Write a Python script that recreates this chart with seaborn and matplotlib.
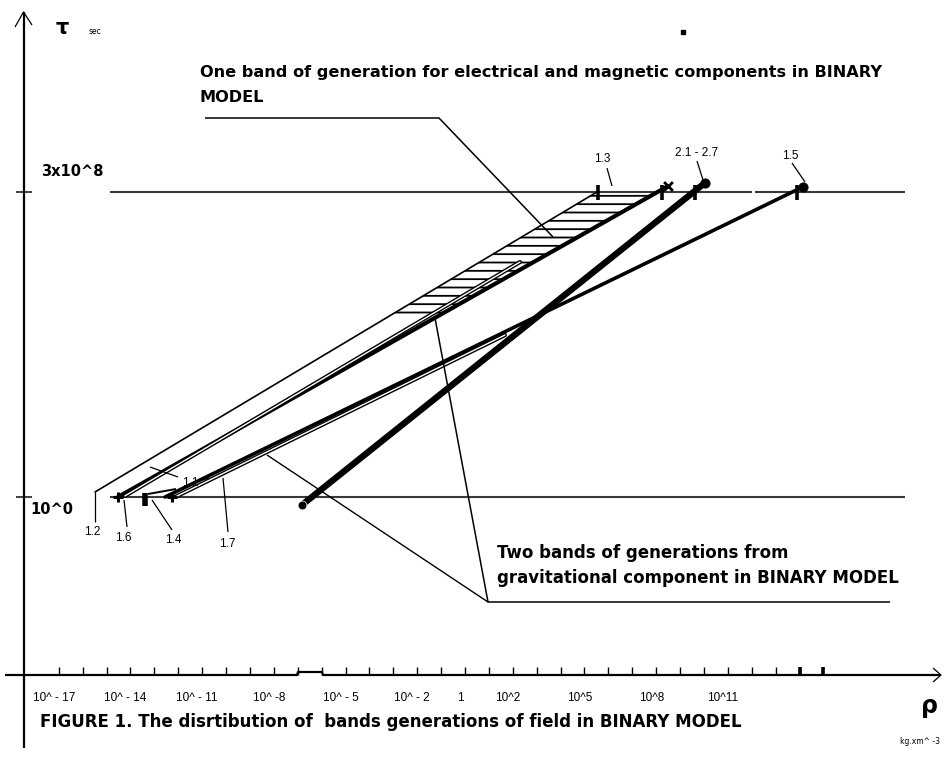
import numpy as np
import pandas as pd
import matplotlib
matplotlib.use("Agg")
import matplotlib.pyplot as plt
from matplotlib.transforms import ScaledTranslation
import seaborn as sns

# ---------------- data (log10 units: rho in kg*m^-3, tau in sec) ----------------
rho_ticks = list(range(-17, 16))
rho_tick_text = {-17: "10^ - 17", -14: "10^ - 14", -11: "10^ - 11", -8: "10^ -8",
                 -5: "10^ - 5", -2: "10^ - 2", 0: "1", 2: "10^2", 5: "10^5",
                 8: "10^8", 11: "10^11"}
rho_strong_ticks = [14, 15]
tau_levels = [0.0, 8.477]          # 10^0 and 3x10^8
tau_level_names = ["10^0", "3x10^8"]
ref_rho_start = -14.85
ref_rho_end = 18.41

band_names = ["1.2-1.3", "1.6", "1.1", "2.1-2.7", "1.5", "1.7"]
band_rho_start = [-15.48, -14.52, -14.23, -6.82, -12.55, -12.13]
band_tau_start = [0.14, 0.00, 0.03, -0.22, 0.00, 0.00]
band_rho_end = [5.52, 8.49, 2.30, 10.04, 14.14, 1.67]
band_tau_end = [8.477, 8.64, 6.53, 8.73, 8.62, 4.50]

hatch_tau_range = [5.06, 8.477]    # hatched part of the electro-magnetic band

top_marker_rho = [5.56, 8.24, 9.62, 13.89]
end_blob_rho = [10.04, 14.14]
end_blob_tau = [8.73, 8.62]
low_marker_rho = [-14.52, -12.26]
low_bar_rho = [-13.39]

# ---------------- figure ----------------
W, H, DPI = 945, 762, 100
sns.set_theme(style="white")
plt.rcParams["font.family"] = ["DejaVu Sans"]
plt.rcParams["hatch.linewidth"] = 1.3

fig = plt.figure(figsize=(W / DPI, H / DPI), dpi=DPI)
fig.patch.set_facecolor("white")
AX_L, AX_R, AX_B, AX_T = 24, 940, 675, 10
ax = fig.add_axes([AX_L / W, 1 - AX_B / H, (AX_R - AX_L) / W, (AX_B - AX_T) / H])
ax.set_facecolor("white")
for s in ax.spines.values():
    s.set_visible(False)

# linear mapping of decades onto the drawing
px_per_rho, rho0_px = 23.9, 465.0
px_per_tau, tau0_px = 35.98, 497.0
ax.set_xlim((AX_L - rho0_px) / px_per_rho, (AX_R - rho0_px) / px_per_rho)
ax.set_ylim((tau0_px - AX_B) / px_per_tau, (tau0_px - AX_T) / px_per_tau)

narrow = ["Liberation Sans Narrow", "Liberation Sans", "DejaVu Sans"]
ax.set_xticks(rho_ticks)
ax.set_xticklabels([rho_tick_text.get(t, "") for t in rho_ticks])
ax.tick_params(axis="x", direction="in", length=5.8, width=1.0, color="black",
               bottom=True, pad=12, labelsize=8.5, labelcolor="black")
for lab in ax.get_xticklabels():
    lab.set_transform(lab.get_transform() + ScaledTranslation(-5 / 100, 0, fig.dpi_scale_trans))
    lab.set_fontfamily(narrow)
ax.set_yticks(tau_levels)
ax.set_yticklabels(["", ""])
ax.tick_params(axis="y", direction="inout", length=11, width=1.3, color="#333333", left=True)
ax.grid(False)


def fx(x):
    return x / W


def fy(y):
    return 1 - y / H


def pline(xs, ys, **kw):
    kw.setdefault("color", "black")
    kw.setdefault("lw", 0.9)
    ax.plot([fx(v) for v in xs], [fy(v) for v in ys], transform=fig.transFigure,
            clip_on=False, solid_capstyle="butt", **kw)


def ptext(x, y, s, **kw):
    kw.setdefault("ha", "center")
    kw.setdefault("va", "center")
    kw.setdefault("color", "black")
    fig.text(fx(x), fy(y), s, **kw)


# axes arrows
pline([24, 24], [748, 12], lw=1.6)
pline([15, 23.5, 32], [27, 12, 25], lw=0.9)
pline([5, 297, 298, 322, 323, 940], [675, 675, 672, 672, 675, 675], lw=1.6)
pline([933, 941, 933], [668, 675, 682], lw=0.9)

# reference levels
for lvl in tau_levels:
    ax.hlines(lvl, ref_rho_start, ref_rho_end, color="#3a3a3a", lw=1.5)
ax.hlines(tau_levels[1], 12.0, 12.13, color="white", lw=3)
ax.vlines(rho_strong_ticks, -4.95, -4.72, color="black", lw=2.6, clip_on=False)

# hatched band between the 1.2-1.3 line and the 1.6 line
tau_h = np.array(hatch_tau_range)
x_up = np.interp(tau_h, [band_tau_start[0], band_tau_end[0]], [band_rho_start[0], band_rho_end[0]])
x_lo = np.interp(tau_h, [band_tau_start[1], band_tau_end[1]], [band_rho_start[1], band_rho_end[1]])
ax.fill_betweenx(tau_h, x_up, x_lo, facecolor="none", edgecolor="black", hatch="--", lw=0)

bands = pd.DataFrame({"name": band_names, "x0": band_rho_start, "y0": band_tau_start,
                      "x1": band_rho_end, "y1": band_tau_end})
styles = {
    "1.2-1.3": dict(lw=1.2, double=False),
    "1.6": dict(lw=3.0, double=False),
    "1.1": dict(lw=3.0, double=True),
    "2.1-2.7": dict(lw=4.6, double=False),
    "1.5": dict(lw=2.6, double=False),
    "1.7": dict(lw=3.0, double=True),
}
for _, r in bands.iterrows():
    st = styles[r["name"]]
    sns.lineplot(x=[r.x0, r.x1], y=[r.y0, r.y1], ax=ax, color="black", lw=st["lw"],
                 sort=False, legend=False, solid_capstyle="round")
    if st["double"]:
        sns.lineplot(x=[r.x0, r.x1], y=[r.y0, r.y1], ax=ax, color="white", lw=1.0,
                     sort=False, legend=False)

# markers
ax.vlines(top_marker_rho, 8.25, 8.68, color="black", lw=2.6)
sns.scatterplot(x=end_blob_rho, y=end_blob_tau, ax=ax, color="black", s=45, marker="o",
                edgecolor="black", legend=False, zorder=5)
sns.scatterplot(x=[band_rho_end[1]], y=[band_tau_end[1]], ax=ax, color="black", s=40,
                marker="x", linewidth=2, legend=False, zorder=5)
sns.scatterplot(x=low_marker_rho, y=[0, 0], ax=ax, color="black", s=60, marker="+",
                linewidth=2.2, legend=False, zorder=5)
ax.vlines(low_bar_rho, -0.25, 0.12, color="black", lw=4)
sns.scatterplot(x=[band_rho_start[3]], y=[band_tau_start[3]], ax=ax, color="black", s=40,
                marker="o", legend=False, zorder=5)

# small labels and their leaders
small = dict(fontsize=8.5, family=narrow)
for (x, y, s) in [(92, 532, "1.2"), (123, 538, "1.6"), (173, 540, "1.4"), (227, 544, "1.7"),
                  (190, 483, "1.1"), (602, 159, "1.3"), (697, 153, "2.1 - 2.7"), (790, 156, "1.5")]:
    ptext(x, y, s, **small)
pline([95, 95], [492, 522])
pline([124, 127], [500, 527])
pline([152, 172], [500, 530])
pline([223, 228], [478, 532])
pline([178, 150], [477, 467])
pline([199, 209], [481, 478])
pline([148, 176], [494, 489], lw=1.4)
pline([607, 612], [168, 186])
pline([697, 703], [161, 180])
pline([792, 805], [163, 182])

# annotation leaders
pline([205, 439, 553], [118, 118, 237], lw=1.1)
pline([890, 488, 435], [602, 602, 318], lw=1.1)
pline([488, 267], [602, 455], lw=1.0)

# texts
bold = dict(fontweight="bold", family=["DejaVu Sans"])
ptext(62, 28, "τ", fontsize=15, **bold)
ptext(95, 31, "sec", fontsize=5.5)
ptext(72, 172, tau_level_names[1], fontsize=10.5, **bold)
ptext(52, 509, tau_level_names[0], fontsize=10.5, **bold)
ptext(200, 72, "One band of generation for electrical and magnetic components in BINARY",
      fontsize=11.6, ha="left", **bold)
ptext(200, 97, "MODEL", fontsize=11.6, ha="left", **bold)
ptext(497, 553, "Two bands of generations from", fontsize=12, ha="left", **bold)
ptext(497, 578, "gravitational component in BINARY MODEL", fontsize=12, ha="left", **bold)
ptext(40, 722, "FIGURE 1. The disrtibution of  bands generations of field in BINARY MODEL",
      fontsize=12, ha="left", **bold)
ptext(930, 706, "ρ", fontsize=17, **bold)
ptext(940, 742, "kg.xm^ -3", fontsize=5.5, ha="right")
ax.plot([fx(683)], [fy(32)], transform=fig.transFigure, marker="s", ms=3, color="black",
        clip_on=False)

fig.savefig("out.png", dpi=DPI)
